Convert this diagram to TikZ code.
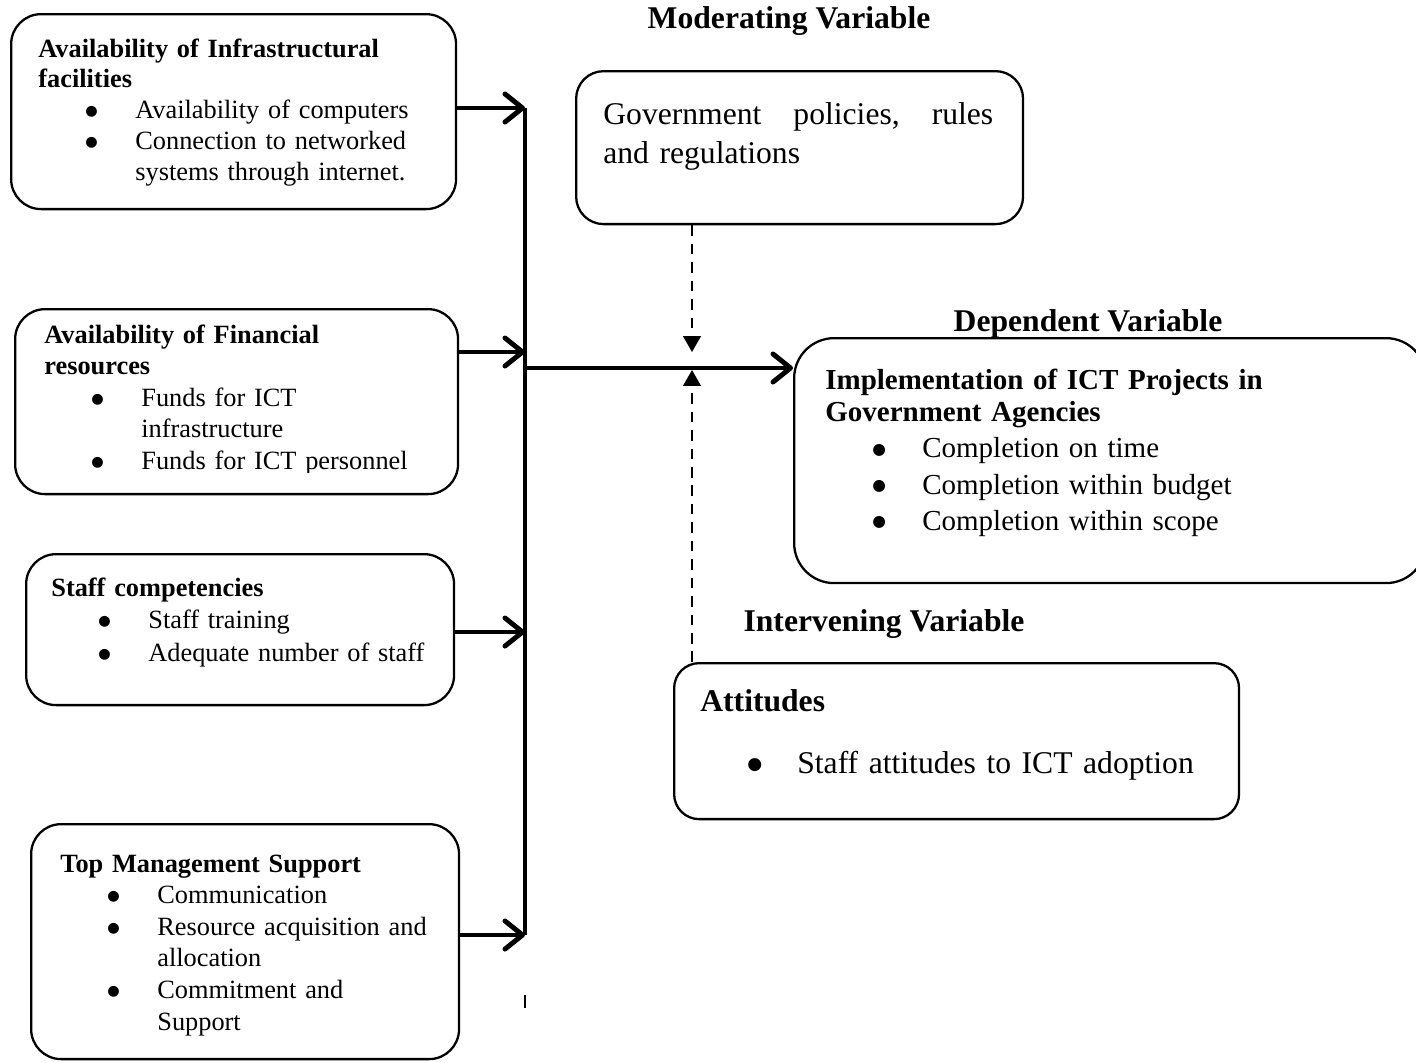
\documentclass[tikz,border=0pt]{standalone}
\usepackage{fontspec}
\setmainfont{Liberation Serif}
\newfontfamily\dotfont{DejaVu Sans}
\usetikzlibrary{arrows.meta}

\newlength\pxu
\setlength\pxu{0.02cm}
\makeatletter
\newcommand\bigdot{\raisebox{0.12em}{\dotfont\fontsize{\the\dimexpr0.54\dimexpr\f@size pt\relax\relax}{1pt}\selectfont ●}}
\makeatother
\newcommand\itm[1]{\hspace*{47\pxu}\makebox[50\pxu][l]{\bigdot}#1}
\newcommand\cont[1]{\hspace*{97\pxu}#1}

\tikzset{
  vbox/.style={draw, line width=1.3pt, rounded corners=0.6cm, anchor=north west, inner sep=0pt},
  txt/.style={anchor=base west, inner sep=0pt, text width=12cm, align=left,
    font=\fontsize{15}{18}\selectfont},
  head/.style={anchor=base, inner sep=0pt, font=\fontsize{18}{21}\selectfont\bfseries},
  feed/.style={line width=2.8pt, -{Straight Barb[length=10pt,width=16pt,round]}},
  modr/.style={line width=1.1pt, dash pattern=on 6pt off 4.5pt,
    -{Triangle[length=9pt,width=10pt]}},
}

\begin{document}
\begin{tikzpicture}[x=0.02cm,y=-0.02cm]

    \clip (0,0) rectangle (1416,1062);

    %independent variable boxes
    \node[vbox, minimum width=8.9cm, minimum height=3.9cm] (infra) at (10,13) {};
    \node[vbox, minimum width=8.86cm, minimum height=3.7cm] (fin) at (14,308) {};
    \node[vbox, minimum width=8.56cm, minimum height=3.02cm] (staff) at (25,553) {};
    \node[vbox, minimum width=8.56cm, minimum height=4.7cm] (mgmt) at (30,823) {};

    %moderating, dependent and intervening boxes
    \node[vbox, minimum width=8.94cm, minimum height=3.06cm, rounded corners=0.55cm] (gov) at (575,70) {};
    \node[vbox, minimum width=12.64cm, minimum height=4.9cm, rounded corners=0.8cm] (dep) at (793,337) {};
    \node[vbox, minimum width=11.3cm, minimum height=3.12cm, rounded corners=0.5cm] (att) at (673,662) {};

    %box texts
    \node[txt, font=\fontsize{15}{17.6}\selectfont] (infraT) at (38,57)
      {\textbf{Availability of Infrastructural}\\\textbf{facilities}\\
      \itm{Availability of computers}\\\itm{Connection to networked}\\\cont{systems through internet.}};
    \begin{scope}
      \clip (0,0) rectangle (1416,472);
      \node[txt] (finT) at (44,343) {\textbf{Availability of Financial}\\\textbf{resources}\\
        \itm{Funds for ICT}\\\cont{infrastructure}\\\itm{Funds for ICT personnel}};
    \end{scope}
    \node[txt, font=\fontsize{15}{18.6}\selectfont] (staffT) at (51,596) {\textbf{Staff competencies}\\
      \itm{Staff training}\\\itm{Adequate number of staff}};
    \node[txt] (mgmtT) at (60,872) {\textbf{Top Management Support}\\\itm{Communication}\\
      \itm{Resource acquisition and}\\\cont{allocation}\\\itm{Commitment and}\\\cont{Support}};
    \node[txt, font=\fontsize{18}{22.7}\selectfont] (govT) at (603,124)
      {\makebox[7.8cm][l]{Government\hfill policies,\hfill rules}\\and regulations};
    \node[txt, font=\fontsize{16.5}{20.7}\selectfont] (depT) at (825,389)
      {\textbf{Implementation of ICT Projects in}\\[-2.3pt]\textbf{Government Agencies}\\
      \itm{Completion on time}\\\itm{Completion within budget}\\\itm{Completion within scope}};
    \node[txt, font=\fontsize{18}{35.5}\selectfont] (attT) at (700,711)
      {\textbf{Attitudes}\\\itm{Staff attitudes to ICT adoption}};

    %headings
    \node[head] (modH) at (789,28) {Moderating Variable};
    \node[head] (depH) at (1088,331) {Dependent Variable};
    \node[head] (intH) at (884,631) {Intervening Variable};

    %bus line and its joints
    \coordinate (busT) at (525,108);
    \coordinate (busB) at (525,935);
    \coordinate (jB) at (525,352);
    \coordinate (jC) at (525,632);
    \coordinate (busM) at (525,368);
    \coordinate (tickT) at (525,995);
    \coordinate (tickB) at (525,1008);
    \draw[line width=2.6pt] (busT) -- (busB);
    \draw[line width=1.2pt] (tickT) -- (tickB);

    %arrows into the bus
    \draw[feed] (infra.east |- busT) -- (busT);
    \draw[feed] (fin.east |- jB) -- (jB);
    \draw[feed] (staff.east |- jC) -- (jC);
    \draw[feed] (mgmt.east |- busB) -- (busB);

    %main arrow to the dependent variable
    \draw[feed] (busM) -- (dep.west |- busM);

    %dashed arrows of moderating and intervening variables
    \coordinate (modE) at (692,352);
    \coordinate (intE) at (692,370);
    \draw[modr] (modE |- gov.south) -- (modE);
    \draw[modr] (intE |- att.north) -- (intE);

\end{tikzpicture}
\end{document}
